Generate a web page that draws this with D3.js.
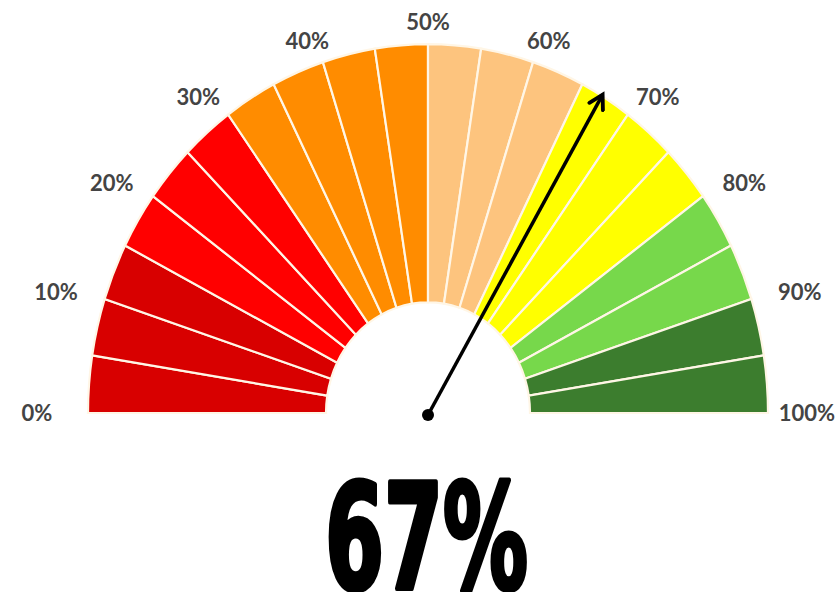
<!DOCTYPE html>
<html>
<head>
<meta charset="utf-8">
<script src="https://cdn.jsdelivr.net/npm/d3@7"></script>
<style>
  body { margin: 0; background: #fff; }
  svg { display: block; }
</style>
</head>
<body>
<div id="chart"></div>
<script>
// gauge bands, each one is 5% wide
const bandColors = [
  '#d80000', '#d80000', '#d80000',
  '#ff0000', '#ff0000', '#ff0000',
  '#ff8c00', '#ff8c00', '#ff8c00', '#ff8c00',
  '#fdc47e', '#fdc47e', '#fdc47e',
  '#ffff00', '#ffff00', '#ffff00',
  '#77d84b', '#77d84b',
  '#3c7d2e', '#3c7d2e'
]
const tickLabels = ['0%', '10%', '20%', '30%', '40%', '50%', '60%', '70%', '80%', '90%', '100%']
const tickValues = [0, 10, 20, 30, 40, 50, 60, 70, 80, 90, 100]
const gaugeValue = 67

const W = 839, H = 592
const cx = 428, cy = 413
const outerR = 340, innerR = 102, yStretch = 1.085

const svg = d3.select('#chart').append('svg')
  .attr('width', W).attr('height', H)

// value -> angle (d3.arc convention, 0 = up)
const angle = d3.scaleLinear().domain([0, 100]).range([-Math.PI / 2, Math.PI / 2])

const bands = bandColors.map((c, i) => ({ from: i * 5, to: (i + 1) * 5, color: c }))

const arc = d3.arc()
  .innerRadius(innerR)
  .outerRadius(outerR)
  .startAngle(d => angle(d.from))
  .endAngle(d => angle(d.to))

const g = svg.append('g')
  .attr('transform', `translate(${cx},${cy}) scale(1,${yStretch})`)

g.selectAll('path.band')
  .data(bands)
  .join('path')
  .attr('class', 'band')
  .attr('d', arc)
  .attr('fill', d => d.color)
  .attr('stroke', '#fff6e6')
  .attr('stroke-width', 2.2)
  .attr('vector-effect', 'non-scaling-stroke')

// tick labels around the gauge
const labelR = 391
const labels = svg.append('g').selectAll('text')
  .data(tickValues)
  .join('text')
  .attr('x', d => cx + labelR * Math.sin(angle(d)))
  .attr('y', d => cy - labelR * Math.cos(angle(d)))
  .attr('dy', '0.36em')
  .attr('text-anchor', 'middle')
  .attr('font-family', 'Lato, "Open Sans", sans-serif')
  .attr('font-weight', 'bold')
  .attr('font-size', 22)
  .attr('fill', '#444')
  .text((d, i) => tickLabels[i])

// keep labels inside the picture
labels.each(function () {
  const w = this.getComputedTextLength()
  const x = +this.getAttribute('x')
  this.setAttribute('x', Math.max(w / 2 + 12, Math.min(x, W - w / 2 - 4)))
})

// needle
const needleLen = 343
const a = angle(gaugeValue)
const nx = cx + needleLen * Math.sin(a)
const ny = cy + 2 - needleLen * Math.cos(a) * yStretch

svg.append('defs').append('marker')
  .attr('id', 'arrow')
  .attr('viewBox', '0 0 10 10')
  .attr('refX', 8).attr('refY', 5)
  .attr('markerWidth', 5.5).attr('markerHeight', 5.5)
  .attr('orient', 'auto')
  .append('path')
  .attr('d', 'M1,1 L8,5 L1,9')
  .attr('fill', 'none')
  .attr('stroke', '#000')
  .attr('stroke-width', 2)
  .attr('stroke-linecap', 'round')

svg.append('line')
  .attr('x1', cx).attr('y1', cy + 2)
  .attr('x2', nx).attr('y2', ny)
  .attr('stroke', '#000')
  .attr('stroke-width', 3.5)
  .attr('marker-end', 'url(#arrow)')

svg.append('circle')
  .attr('cx', cx).attr('cy', cy + 2)
  .attr('r', 6)
  .attr('fill', '#000')

// big value readout
svg.append('text')
  .attr('x', 325).attr('y', 589)
  .attr('textLength', 203)
  .attr('lengthAdjust', 'spacingAndGlyphs')
  .attr('font-family', '"Liberation Sans Narrow", "DejaVu Sans Condensed", sans-serif')
  .attr('font-weight', 'bold')
  .attr('font-size', 146)
  .attr('fill', '#000')
  .attr('stroke', '#000')
  .attr('stroke-width', 5)
  .attr('stroke-linejoin', 'round')
  .text(gaugeValue + '%')
</script>
</body>
</html>
